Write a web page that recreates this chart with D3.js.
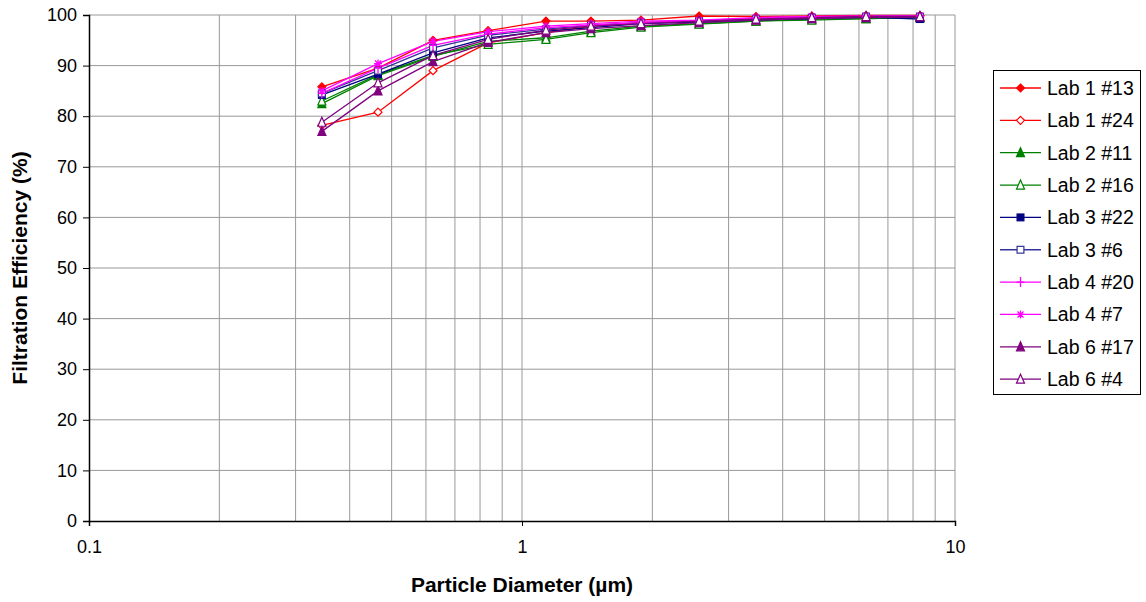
<!DOCTYPE html>
<html><head><meta charset="utf-8">
<script src="https://cdn.jsdelivr.net/npm/d3@7"></script>
<style>body{margin:0;background:#fff;} svg{display:block;font-family:Arial,"Liberation Sans",sans-serif;}</style>
</head><body><svg id="c" width="1146" height="602"></svg>
<script>
const diameters = [0.345, 0.465, 0.623, 0.835, 1.136, 1.443, 1.883, 2.564, 3.47, 4.67, 6.23, 8.30];
const seriesNames = ["Lab 1 #13","Lab 1 #24","Lab 2 #11","Lab 2 #16","Lab 3 #22","Lab 3 #6","Lab 4 #20","Lab 4 #7","Lab 6 #17","Lab 6 #4"];
const lab1_13 = [85.8, 89.5, 95.0, 96.9, 98.8, 98.8, 99.0, 99.8, 99.7, 99.8, 99.9, 99.9];
const lab1_24 = [78.2, 80.8, 89.0, 94.5, 96.5, 97.8, 98.5, 98.8, 99.3, 99.5, 99.7, 99.8];
const lab2_11 = [82.5, 88.0, 91.8, 94.8, 95.5, 96.8, 97.8, 98.3, 98.8, 99.2, 99.3, 99.5];
const lab2_16 = [83.0, 88.2, 92.0, 94.2, 95.2, 96.5, 97.6, 98.2, 98.8, 99.0, 99.3, 99.5];
const lab3_22 = [84.2, 88.3, 92.5, 95.5, 96.8, 97.5, 98.3, 98.6, 99.0, 99.3, 99.6, 99.2];
const lab3_6  = [84.5, 89.0, 93.5, 96.0, 97.2, 98.0, 98.5, 98.8, 99.2, 99.5, 99.7, 99.7];
const lab4_20 = [84.5, 89.5, 94.0, 96.2, 97.5, 98.0, 98.5, 98.9, 99.4, 99.6, 99.7, 99.8];
const lab4_7  = [85.0, 90.4, 94.8, 96.7, 97.8, 98.3, 98.8, 99.0, 99.5, 99.7, 99.8, 99.8];
const lab6_17 = [77.0, 85.0, 90.8, 94.6, 96.5, 97.3, 97.9, 98.5, 99.0, 99.3, 99.5, 99.6];
const lab6_4  = [78.8, 86.6, 92.0, 95.2, 97.0, 97.8, 98.3, 98.8, 99.2, 99.5, 99.7, 99.7];
const yTicks = [0,10,20,30,40,50,60,70,80,90,100];
const xTicks = [0.1, 1, 10];
const xTickLabels = ["0.1","1","10"];

const values = [lab1_13, lab1_24, lab2_11, lab2_16, lab3_22, lab3_6, lab4_20, lab4_7, lab6_17, lab6_4];
const colors = ["#FF0000","#FF0000","#008000","#008000","#000080","#333399","#FF00FF","#FF00FF","#800080","#800080"];
const markers = ["diamondF","diamondO","triF","triO","squareF","squareO","plus","star","triF","triO"];

const svg = d3.select("#c");
const L=89, R=955, T=15, B=521;
const x = d3.scaleLog().domain([0.1,10]).range([L,R]);
const y = d3.scaleLinear().domain([0,100]).range([B,T]);

// gridlines
const minor = [];
for (let dec of [0.1,1]) for (let k=1;k<=9;k++) minor.push(dec*k);
minor.push(10);
svg.append("g").selectAll("line").data(minor.filter(v=>v>0.1)).join("line")
  .attr("x1",d=>x(d)).attr("x2",d=>x(d)).attr("y1",T).attr("y2",B)
  .attr("stroke","#999").attr("stroke-width",1);
svg.append("g").selectAll("line").data(yTicks.filter(v=>v>0)).join("line")
  .attr("x1",L).attr("x2",R).attr("y1",d=>y(d)).attr("y2",d=>y(d))
  .attr("stroke","#999").attr("stroke-width",1);

// axes
const yAxis = d3.axisLeft(y).tickValues(yTicks).tickSize(6).tickPadding(6).tickFormat(d3.format("d"));
const gy = svg.append("g").attr("transform",`translate(${L},0)`).call(yAxis);
gy.selectAll("text").attr("font-size","18px").attr("fill","#000");
gy.select(".domain").attr("stroke","#000").attr("stroke-width",1.5);
const xAxis = d3.axisBottom(x).tickValues(xTicks).tickSize(5).tickPadding(14).tickFormat((d,i)=>xTickLabels[i]);
const gx = svg.append("g").attr("transform",`translate(0,${B})`).call(xAxis);
gx.selectAll("text").attr("font-size","18px").attr("fill","#000");
gx.select(".domain").attr("stroke","#000").attr("stroke-width",1.5);

// series
const line = d3.line().x((d,i)=>x(diameters[i])).y(d=>y(d));
function drawMarker(g, type, color, cx, cy, s) {
  if (type==="diamondF"||type==="diamondO") {
    g.append("path").attr("d",`M${cx},${cy-s}L${cx+s},${cy}L${cx},${cy+s}L${cx-s},${cy}Z`)
      .attr("fill", type==="diamondF"?color:"#fff").attr("stroke",color).attr("stroke-width",1.2);
  } else if (type==="triF"||type==="triO") {
    g.append("path").attr("d",`M${cx},${cy-s-1}L${cx+s},${cy+s}L${cx-s},${cy+s}Z`)
      .attr("fill", type==="triF"?color:"#fff").attr("stroke",color).attr("stroke-width",1.2);
  } else if (type==="squareF"||type==="squareO") {
    const h=s*0.85;
    g.append("rect").attr("x",cx-h).attr("y",cy-h).attr("width",2*h).attr("height",2*h)
      .attr("fill", type==="squareF"?color:"#fff").attr("stroke",color).attr("stroke-width",1.2);
  } else if (type==="plus") {
    g.append("path").attr("d",`M${cx-s},${cy}H${cx+s}M${cx},${cy-s-1}V${cy+s+1}`).attr("stroke",color).attr("stroke-width",1.3).attr("fill","none");
  } else if (type==="star") {
    g.append("path").attr("d",`M${cx-s},${cy}H${cx+s}M${cx},${cy-s}V${cy+s}M${cx-s*0.75},${cy-s*0.75}L${cx+s*0.75},${cy+s*0.75}M${cx-s*0.75},${cy+s*0.75}L${cx+s*0.75},${cy-s*0.75}`)
      .attr("stroke",color).attr("stroke-width",1.3).attr("fill","none");
  }
}
const gs = svg.append("g");
values.forEach((vals,si)=>{
  gs.append("path").datum(vals).attr("d",line).attr("fill","none").attr("stroke",colors[si]).attr("stroke-width",1.3);
});
values.forEach((vals,si)=>{
  const g = gs.append("g");
  vals.forEach((v,i)=>drawMarker(g, markers[si], colors[si], x(diameters[i]), y(v), 4));
});

// legend
const lg = svg.append("g");
lg.append("rect").attr("x",993.5).attr("y",70.5).attr("width",147).attr("height",324).attr("fill","#fff").attr("stroke","#000").attr("stroke-width",1);
seriesNames.forEach((n,i)=>{
  const cy = 88 + i*32.35;
  lg.append("line").attr("x1",1000).attr("x2",1041).attr("y1",cy).attr("y2",cy).attr("stroke",colors[i]).attr("stroke-width",1.3);
  drawMarker(lg, markers[i], colors[i], 1020.5, cy, 4);
  lg.append("text").attr("x",1047).attr("y",cy).attr("dy","0.36em").attr("font-size","19.5px").attr("fill","#000").text(n);
});

// titles
svg.append("text").attr("x",522).attr("y",592).attr("text-anchor","middle").attr("font-size","21px").attr("font-weight","bold").text("Particle Diameter (µm)");
svg.append("text").attr("transform",`translate(27,${(T+B)/2}) rotate(-90)`).attr("text-anchor","middle").attr("font-size","21px").attr("font-weight","bold").text("Filtration Efficiency (%)");
</script></body></html>
